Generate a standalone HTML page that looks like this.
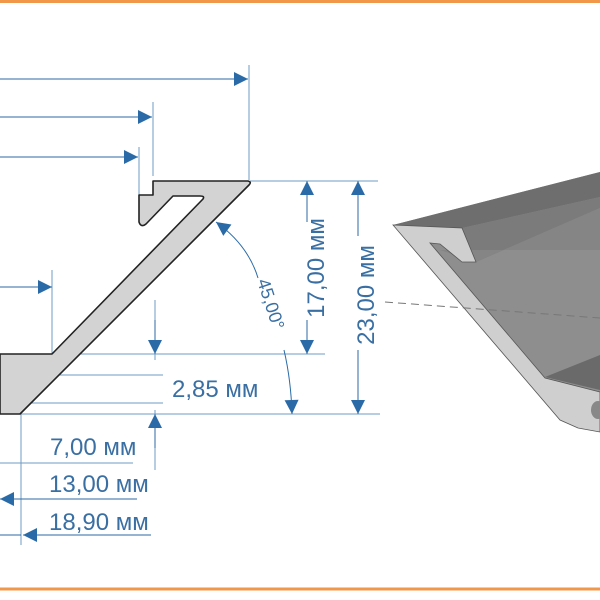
<!DOCTYPE html>
<html><head><meta charset="utf-8"><style>
html,body{margin:0;padding:0;background:#fff;}
svg{display:block;}
text{font-family:"Liberation Sans",sans-serif;fill:#3a6fa3;}
</style></head><body>
<svg width="600" height="600" viewBox="0 0 600 600" xmlns="http://www.w3.org/2000/svg">
<defs>
<marker id="a" viewBox="0 0 10 10" refX="10" refY="5" markerWidth="22" markerHeight="14" markerUnits="userSpaceOnUse" orient="auto-start-reverse"><path d="M0,0L10,5L0,10z" fill="#2a6aa6"/></marker>
</defs>
<line x1="0" y1="1.5" x2="600" y2="1.5" stroke="#f0974a" stroke-width="3"/>
<line x1="0" y1="589" x2="600" y2="589" stroke="#f0974a" stroke-width="3"/>

<polygon points="393,225 600,172 600,400 560,420" fill="#8e8e8e"/>
<polygon points="393,225 600,172 600,197 462,228" fill="#6e6e6e"/>
<polygon points="462,228 600,197 600,208 476,262" fill="#7b7b7b"/>
<polygon points="476,262 600,208 600,250 440,250" fill="#858585"/>
<polygon points="545,377 600,355 600,390" fill="#6a6a6a"/>
<polygon points="393,225 462,228 476,262 462,262 440,244 430,243 545,378 600,392 600,432 578,428 560,420" fill="#cfcfcf" stroke="#555" stroke-width="0.8"/>
<ellipse cx="598" cy="410" rx="7" ry="9" fill="#888"/>
<line x1="385" y1="302" x2="600" y2="318" stroke="#777" stroke-width="1" stroke-dasharray="8,5"/>

<g stroke="#6f9cc4" stroke-width="1">
<line x1="249" y1="65" x2="249" y2="180"/>
<line x1="153" y1="102" x2="153" y2="176"/>
<line x1="139" y1="147" x2="139" y2="200"/>
<line x1="52" y1="270" x2="52" y2="354"/>
<line x1="250" y1="181" x2="378" y2="181"/>
<line x1="0" y1="354" x2="325" y2="354"/>
<line x1="0" y1="375" x2="163" y2="375"/>
<line x1="0" y1="403" x2="163" y2="403"/>
<line x1="0" y1="414" x2="380" y2="414"/>
<line x1="21" y1="414" x2="21" y2="545"/>
<line x1="0" y1="463" x2="133" y2="463"/>
<line x1="155" y1="300" x2="155" y2="360"/>
<line x1="155" y1="410" x2="155" y2="470"/>
</g>

<path d="M0,354 L52,354 L203,199 Q205,196 200,196 L173,196 L146,224 Q141,228 139,222 L139,195 L153,195 L153,181 L248,181 Q252,182 249,185 L20,414 L0,414 Z" fill="#d3d3d3" stroke="#222" stroke-width="1.6" stroke-linejoin="round"/>

<g stroke="#2a6aa6" stroke-width="1" fill="none">
<line x1="0" y1="79" x2="248" y2="79" marker-end="url(#a)"/>
<line x1="0" y1="117" x2="152" y2="117" marker-end="url(#a)"/>
<line x1="0" y1="157" x2="138" y2="157" marker-end="url(#a)"/>
<line x1="0" y1="287" x2="52" y2="287" marker-end="url(#a)"/>
<line x1="155" y1="320" x2="155" y2="354" marker-end="url(#a)"/>
<line x1="155" y1="448" x2="155" y2="414" marker-end="url(#a)"/>
<line x1="307" y1="181" x2="307" y2="222" marker-start="url(#a)"/>
<line x1="307" y1="320" x2="307" y2="354" marker-end="url(#a)"/>
<line x1="358" y1="181" x2="358" y2="236" marker-start="url(#a)"/>
<line x1="358" y1="350" x2="358" y2="414" marker-end="url(#a)"/>
<path d="M216,222 Q248,245 258,278" marker-start="url(#a)"/>
<path d="M284,350 Q291,380 292,414" marker-end="url(#a)"/>
<line x1="0" y1="499" x2="137" y2="499"/>
<line x1="18" y1="499" x2="0" y2="499" marker-end="url(#a)"/>
<line x1="48" y1="535" x2="151" y2="535"/>
<line x1="48" y1="535" x2="23" y2="535" marker-end="url(#a)"/>
<line x1="0" y1="535" x2="21" y2="535"/>
</g>

<text x="172" y="397" font-size="24">2,85 мм</text>
<text x="50" y="455" font-size="24">7,00 мм</text>
<text x="49" y="492" font-size="24">13,00 мм</text>
<text x="49" y="530" font-size="24">18,90 мм</text>
<text transform="translate(324,268) rotate(-90)" font-size="24" text-anchor="middle">17,00 мм</text>
<text transform="translate(374,295) rotate(-90)" font-size="24" text-anchor="middle">23,00 мм</text>
<text transform="translate(257,281) rotate(72)" font-size="18">45,00°</text>
</svg>
</body></html>
